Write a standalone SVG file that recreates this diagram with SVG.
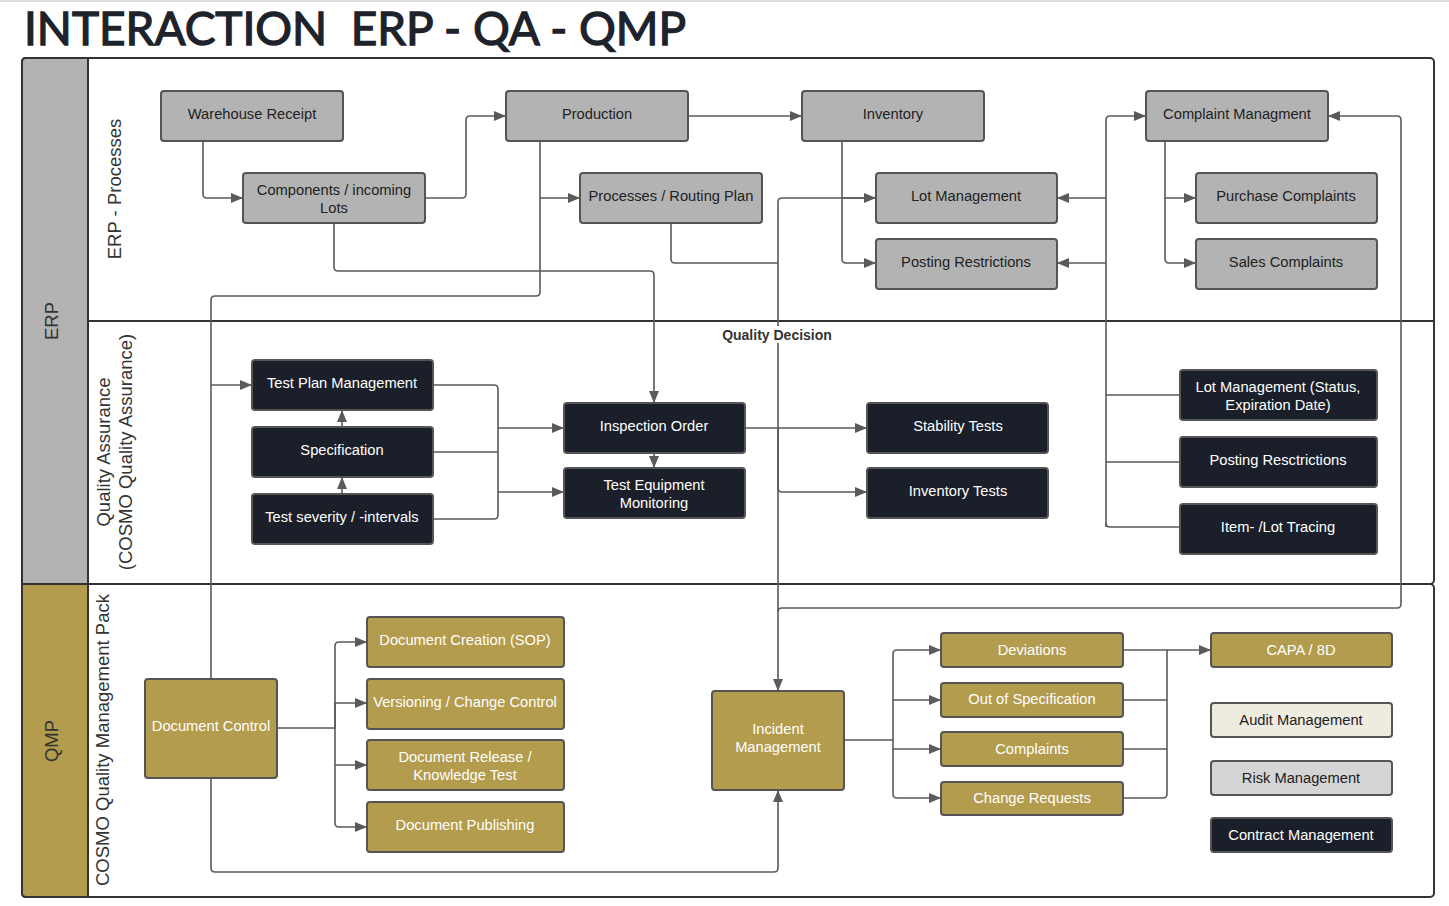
<svg xmlns="http://www.w3.org/2000/svg" width="1449" height="906" viewBox="0 0 1449 906">
<defs>
<marker id="arr" markerUnits="userSpaceOnUse" markerWidth="12" markerHeight="10" refX="12" refY="5" orient="auto">
<path d="M0,0 L12,5 L0,10 z" fill="#5a5a5a"/>
</marker>
<style>
.erp rect{fill:#b3b3b3;stroke:#555;stroke-width:2}
.qa rect{fill:#1b1f2a;stroke:#555;stroke-width:2}
.qmp rect{fill:#b39c4d;stroke:#555;stroke-width:2}
.t{font-family:"Liberation Sans",Arial,sans-serif;font-size:14.7px;text-anchor:middle}
.erp text{fill:#222}
.qa text,.qmp text{fill:#fff}
.c path{fill:none;stroke:#5a5a5a;stroke-width:1.6;stroke-linejoin:round}
.a{marker-end:url(#arr)}
.lane{font-family:"Liberation Sans",Arial,sans-serif;font-size:18.5px;fill:#333;text-anchor:middle}
</style>
</defs>
<rect width="1449" height="906" fill="#fff"/>
<line x1="0" y1="1" x2="1449" y2="1" stroke="#cfcfcf" stroke-width="1.5"/>
<text x="24" y="45" xml:space="preserve" style="white-space:pre" font-family="Lato,'Open Sans',sans-serif" font-weight="400" font-size="46" fill="#1d222b" stroke="#1d222b" stroke-width="1.3" textLength="662" lengthAdjust="spacingAndGlyphs">INTERACTION  ERP - QA - QMP</text>

<g id="pools">
<rect x="22" y="58" width="1412" height="526" rx="4" fill="#fff" stroke="#333" stroke-width="2"/>
<rect x="22" y="584" width="1412" height="313" rx="4" fill="#fff" stroke="#333" stroke-width="2"/>
<path d="M26,58 H88 V584 H22 V62 Q22,58 26,58 z" fill="#b3b3b3" stroke="#333" stroke-width="2"/>
<path d="M22,584 H88 V897 H26 Q22,897 22,893 z" fill="#b39c4d" stroke="#333" stroke-width="2"/>
<line x1="88" y1="321" x2="1434" y2="321" stroke="#333" stroke-width="2"/>
<text class="lane" transform="translate(58,321) rotate(-90)">ERP</text>
<text class="lane" transform="translate(58,741) rotate(-90)">QMP</text>
<text class="lane" transform="translate(121,189) rotate(-90)">ERP - Processes</text>
<text class="lane" transform="translate(110,452) rotate(-90)">Quality Assurance</text>
<text class="lane" transform="translate(132,452) rotate(-90)">(COSMO Quality Assurance)</text>
<text class="lane" transform="translate(109,740) rotate(-90)">COSMO Quality Management Pack</text>
</g>

<g id="connectors" class="c">
<path class="a" d="M203,141 V194 Q203,198 207,198 H243"/>
<path class="a" d="M425,198 H462 Q466,198 466,194 V120 Q466,116 470,116 H506"/>
<path class="a" d="M688,116 H802"/>
<path class="a" d="M540,141 V198 H580"/>
<path d="M211,678 V300 Q211,296 215,296 H536 Q540,296 540,292 V198"/>
<path class="a" d="M211,385 H252"/>
<path class="a" d="M334,223 V267 Q334,271 338,271 H650 Q654,271 654,275 V403"/>
<path d="M671,223 V259 Q671,263 675,263 H778"/>
<path class="a" d="M876,198 H782 Q778,198 778,202 V691"/>
<path class="a" d="M842,141 V198 H876"/>
<path class="a" d="M842,198 V259 Q842,263 846,263 H876"/>
<path class="a" d="M1106,527 V120 Q1106,116 1110,116 H1146"/>
<path class="a" d="M1106,198 H1057"/>
<path class="a" d="M1106,263 H1057"/>
<path d="M1106,395 H1180"/>
<path d="M1106,462 H1180"/>
<path d="M1106,523 Q1106,527 1110,527 H1180"/>
<path class="a" d="M1165,141 V198 H1196"/>
<path class="a" d="M1165,198 V259 Q1165,263 1169,263 H1196"/>
<path class="a" d="M778,612 Q778,608 782,608 H1397 Q1401,608 1401,604 V120 Q1401,116 1397,116 H1328"/>
<path class="a" d="M433,385 H494 Q498,385 498,389 V428 H564"/>
<path d="M433,452 H498 V428"/>
<path class="a" d="M498,452 V492 H564"/>
<path d="M433,519 H494 Q498,519 498,515 V492"/>
<path class="a" d="M342,427 V410"/>
<path class="a" d="M342,494 V477"/>
<path class="a" d="M654,453 V468"/>
<path class="a" d="M745,428 H867"/>
<path class="a" d="M778,428 V488 Q778,492 782,492 H867"/>
<path class="a" d="M277,728 H335 V646 Q335,642 339,642 H367"/>
<path class="a" d="M335,728 V703 H367"/>
<path class="a" d="M335,728 V765 H367"/>
<path class="a" d="M335,765 V823 Q335,827 339,827 H367"/>
<path class="a" d="M211,778 V868 Q211,872 215,872 H774 Q778,872 778,868 V790"/>
<path class="a" d="M844,740 H893 V654 Q893,650 897,650 H941"/>
<path class="a" d="M893,700 H941"/>
<path class="a" d="M893,740 V749 H941"/>
<path class="a" d="M893,749 V794 Q893,798 897,798 H941"/>
<path class="a" d="M1123,650 H1211"/>
<path d="M1123,700 H1167 V650"/>
<path d="M1123,749 H1167"/>
<path d="M1123,798 H1163 Q1167,798 1167,794 V700"/>
<rect x="719" y="326" width="117" height="17" fill="#fff"/>
<text x="777" y="340" font-family="'Liberation Sans',Arial,sans-serif" font-size="14" font-weight="700" fill="#333" text-anchor="middle">Quality Decision</text>
</g>

<g id="n-warehouse" class="erp"><rect x="161" y="91" width="182" height="50" rx="3"/><text class="t" x="252" y="119">Warehouse Receipt</text></g>
<g id="n-components" class="erp"><rect x="243" y="173" width="182" height="50" rx="3"/><text class="t" x="334" y="195">Components / incoming</text><text class="t" x="334" y="213">Lots</text></g>
<g id="n-production" class="erp"><rect x="506" y="91" width="182" height="50" rx="3"/><text class="t" x="597" y="119">Production</text></g>
<g id="n-processes" class="erp"><rect x="580" y="173" width="182" height="50" rx="3"/><text class="t" x="671" y="201">Processes / Routing Plan</text></g>
<g id="n-inventory" class="erp"><rect x="802" y="91" width="182" height="50" rx="3"/><text class="t" x="893" y="119">Inventory</text></g>
<g id="n-lotmgmt" class="erp"><rect x="876" y="173" width="181" height="50" rx="3"/><text class="t" x="966" y="201">Lot Management</text></g>
<g id="n-posting" class="erp"><rect x="876" y="239" width="181" height="50" rx="3"/><text class="t" x="966" y="267">Posting Restrictions</text></g>
<g id="n-complaint" class="erp"><rect x="1146" y="91" width="182" height="50" rx="3"/><text class="t" x="1237" y="119">Complaint Managment</text></g>
<g id="n-purchase" class="erp"><rect x="1196" y="173" width="181" height="50" rx="3"/><text class="t" x="1286" y="201">Purchase Complaints</text></g>
<g id="n-sales" class="erp"><rect x="1196" y="239" width="181" height="50" rx="3"/><text class="t" x="1286" y="267">Sales Complaints</text></g>

<g id="n-testplan" class="qa"><rect x="252" y="360" width="181" height="50" rx="3"/><text class="t" x="342" y="388">Test Plan Management</text></g>
<g id="n-spec" class="qa"><rect x="252" y="427" width="181" height="50" rx="3"/><text class="t" x="342" y="455">Specification</text></g>
<g id="n-severity" class="qa"><rect x="252" y="494" width="181" height="50" rx="3"/><text class="t" x="342" y="522">Test severity / -intervals</text></g>
<g id="n-inspection" class="qa"><rect x="564" y="403" width="181" height="50" rx="3"/><text class="t" x="654" y="431">Inspection Order</text></g>
<g id="n-equipment" class="qa"><rect x="564" y="468" width="181" height="50" rx="3"/><text class="t" x="654" y="490">Test Equipment</text><text class="t" x="654" y="508">Monitoring</text></g>
<g id="n-stability" class="qa"><rect x="867" y="403" width="181" height="50" rx="3"/><text class="t" x="958" y="431">Stability Tests</text></g>
<g id="n-invtests" class="qa"><rect x="867" y="468" width="181" height="50" rx="3"/><text class="t" x="958" y="496">Inventory Tests</text></g>
<g id="n-lotstatus" class="qa"><rect x="1180" y="370" width="197" height="50" rx="3"/><text class="t" x="1278" y="392">Lot Management (Status,</text><text class="t" x="1278" y="410">Expiration Date)</text></g>
<g id="n-postingqa" class="qa"><rect x="1180" y="437" width="197" height="50" rx="3"/><text class="t" x="1278" y="465">Posting Resctrictions</text></g>
<g id="n-tracing" class="qa"><rect x="1180" y="504" width="197" height="50" rx="3"/><text class="t" x="1278" y="532">Item- /Lot Tracing</text></g>

<g id="n-doccontrol" class="qmp"><rect x="145" y="679" width="132" height="99" rx="3"/><text class="t" x="211" y="731">Document Control</text></g>
<g id="n-doccreation" class="qmp"><rect x="367" y="617" width="197" height="50" rx="3"/><text class="t" x="465" y="645">Document Creation (SOP)</text></g>
<g id="n-versioning" class="qmp"><rect x="367" y="679" width="197" height="50" rx="3"/><text class="t" x="465" y="707">Versioning / Change Control</text></g>
<g id="n-release" class="qmp"><rect x="367" y="740" width="197" height="50" rx="3"/><text class="t" x="465" y="762">Document Release /</text><text class="t" x="465" y="780">Knowledge Test</text></g>
<g id="n-publishing" class="qmp"><rect x="367" y="802" width="197" height="50" rx="3"/><text class="t" x="465" y="830">Document Publishing</text></g>
<g id="n-incident" class="qmp"><rect x="712" y="691" width="132" height="99" rx="3"/><text class="t" x="778" y="734">Incident</text><text class="t" x="778" y="752">Management</text></g>
<g id="n-deviations" class="qmp"><rect x="941" y="633" width="182" height="34" rx="3"/><text class="t" x="1032" y="655">Deviations</text></g>
<g id="n-oos" class="qmp"><rect x="941" y="683" width="182" height="34" rx="3"/><text class="t" x="1032" y="704">Out of Specification</text></g>
<g id="n-complaints" class="qmp"><rect x="941" y="732" width="182" height="34" rx="3"/><text class="t" x="1032" y="754">Complaints</text></g>
<g id="n-change" class="qmp"><rect x="941" y="782" width="182" height="33" rx="3"/><text class="t" x="1032" y="803">Change Requests</text></g>
<g id="n-capa" class="qmp"><rect x="1211" y="633" width="181" height="34" rx="3"/><text class="t" x="1301" y="655">CAPA / 8D</text></g>
<g id="n-audit"><rect x="1211" y="703" width="181" height="34" rx="3" fill="#eeebe0" stroke="#555" stroke-width="2"/><text class="t" x="1301" y="725" fill="#222">Audit Management</text></g>
<g id="n-risk"><rect x="1211" y="761" width="181" height="34" rx="3" fill="#d5d5d5" stroke="#555" stroke-width="2"/><text class="t" x="1301" y="783" fill="#222">Risk Management</text></g>
<g id="n-contract"><rect x="1211" y="818" width="181" height="34" rx="3" fill="#1b1f2a" stroke="#555" stroke-width="2"/><text class="t" x="1301" y="840" fill="#fff">Contract Management</text></g>
</svg>
